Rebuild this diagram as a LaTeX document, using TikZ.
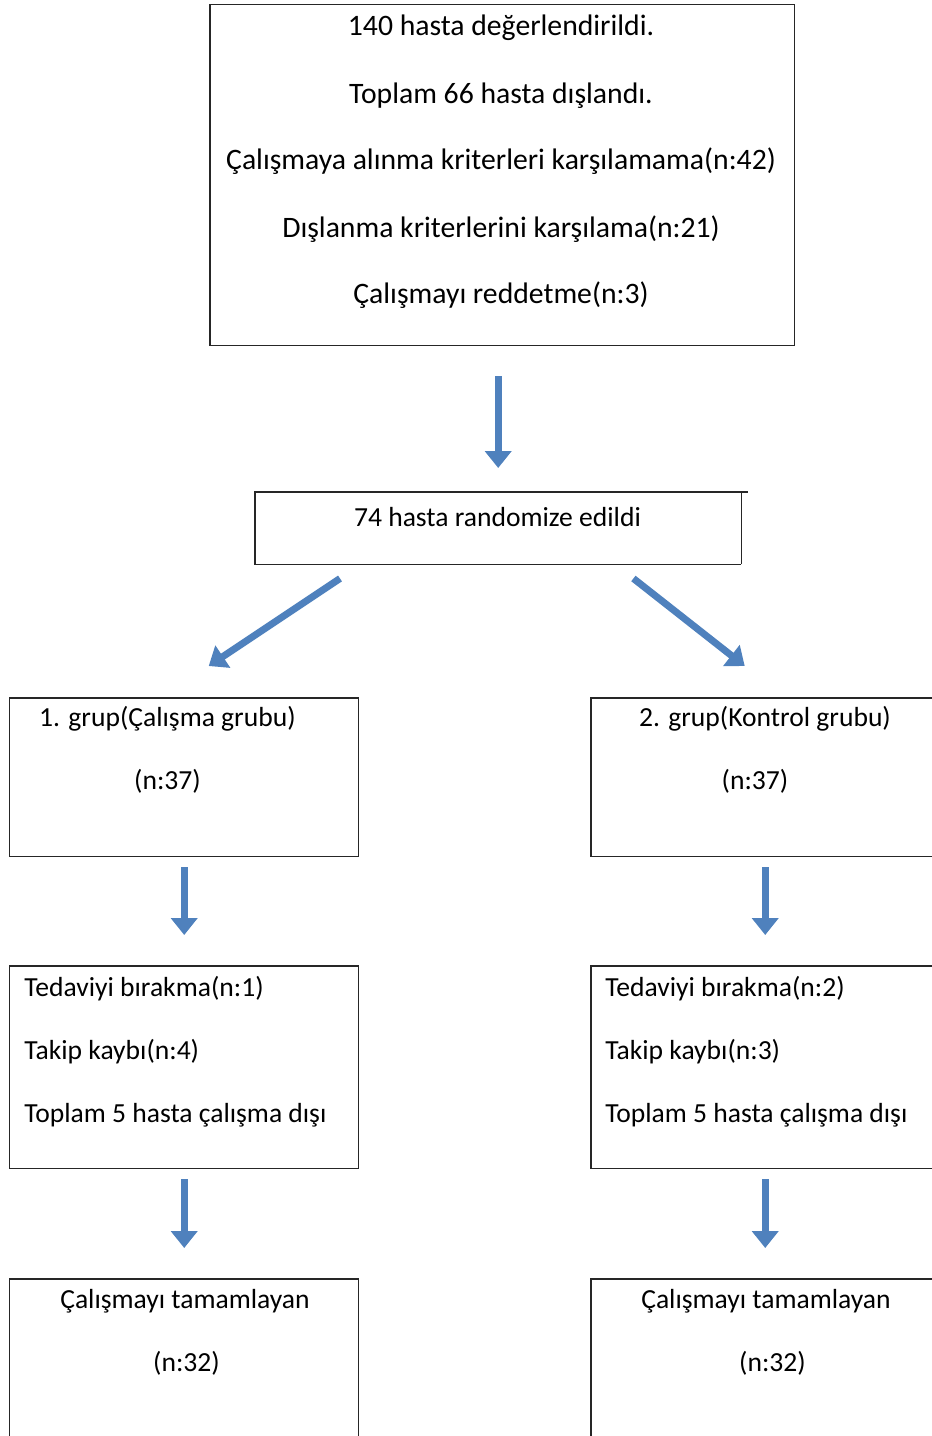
\documentclass[tikz,border=0pt]{standalone}
\usepackage{fontspec}
\setmainfont{Carlito}
\usetikzlibrary{positioning,arrows.meta,calc}
\definecolor{okmavi}{RGB}{79,129,189}
\tikzset{
  kutu/.style={draw=black!85, line width=0.03cm, anchor=north west, inner sep=0pt},
  yazi/.style={anchor=base, inner sep=0pt, font=\fontsize{16.9}{20}\selectfont},
  yazik/.style={yazi, font=\fontsize{15.7}{19}\selectfont},
  ok/.style={okmavi, line width=0.14cm, -{Triangle[width=0.52cm,length=0.34cm]}}
}
\begin{document}
\begin{tikzpicture}[x=0.02cm,y=-0.02cm]
    \useasboundingbox (0,0) rectangle (932,1436);
    \clip (0,0) rectangle (932,1436);
    % kutular
    \node[kutu, minimum width=11.7cm, minimum height=6.82cm] (ust) at (209,4) {};
    \node[kutu, draw=none, minimum width=9.7cm, minimum height=1.42cm] (rnd) at (255,492) {};
    \draw[black!85, line width=0.03cm] (rnd.south east) -- (rnd.south west) -- (rnd.north west) -- ($(rnd.north east)+(7,0)$);
    \draw[black!85, line width=0.03cm] (rnd.north east) -- (rnd.south east);
    \node[kutu, minimum width=6.98cm, minimum height=3.18cm] (grp1) at (9,697) {};
    \node[kutu, minimum width=6.98cm, minimum height=3.18cm] (grp2) at (590,697) {};
    \node[kutu, minimum width=6.98cm, minimum height=4.06cm] (cik1) at (9,965) {};
    \node[kutu, minimum width=6.98cm, minimum height=4.06cm] (cik2) at (590,965) {};
    \node[kutu, minimum width=6.98cm, minimum height=3.4cm] (son1) at (9,1278) {};
    \node[kutu, minimum width=6.98cm, minimum height=3.4cm] (son2) at (590,1278) {};

    % yazilar
    \foreach \y/\metin in {36/{140 hasta değerlendirildi.}, 104/{Toplam 66 hasta dışlandı.},
        170/{Çalışmaya alınma kriterleri karşılamama(n:42)}, 237/{Dışlanma kriterlerini karşılama(n:21)},
        303/{Çalışmayı reddetme(n:3)}} {
        \node[yazi] (ust-\y) at (501,\y) {\metin};
    }
    \node[yazik] (rnd-t) at (497.5,526) {74 hasta randomize edildi};
    \node[yazik] (grp1-a) at (167.5,726) {1. grup(Çalışma grubu)};
    \node[yazik] (grp1-b) at (167.5,789) {(n:37)};
    \node[yazik] (grp2-a) at (765,726) {2. grup(Kontrol grubu)};
    \node[yazik] (grp2-b) at (755,789) {(n:37)};
    \foreach \k/\x/\a/\b in {1/24/1/4, 2/605/2/3} {
        \node[yazik, anchor=base west] (cik\k-a) at (\x,996) {Tedaviyi bırakma(n:\a)};
        \node[yazik, anchor=base west] (cik\k-b) at (\x,1059) {Takip kaybı(n:\b)};
        \node[yazik, anchor=base west] (cik\k-c) at (\x,1122) {Toplam 5 hasta çalışma dışı};
    }
    \node[yazik] (son1-a) at (185,1308) {Çalışmayı tamamlayan};
    \node[yazik] (son1-b) at (186.5,1371) {(n:32)};
    \node[yazik] (son2-a) at (766,1308) {Çalışmayı tamamlayan};
    \node[yazik] (son2-b) at (772.5,1371) {(n:32)};

    % oklar
    \draw[ok, shorten <=0.6cm, shorten >=0.48cm] (ust.south -| rnd.north) -- (rnd.north);
    \coordinate (sol-u) at ($(rnd.south west)+(85,14)$);
    \coordinate (sol-a) at ($(grp1.north)+(24.5,-31)$);
    \coordinate (sag-u) at ($(rnd.south east)+(-108,14)$);
    \coordinate (sag-a) at ($(grp2.north)+(-20.5,-31)$);
    \draw[ok] (sol-u) -- (sol-a);
    \draw[ok] (sag-u) -- (sag-a);
    \foreach \k in {1,2} {
        \draw[ok, shorten <=0.2cm, shorten >=0.6cm] (grp\k.south) -- (cik\k.north);
        \draw[ok, shorten <=0.2cm, shorten >=0.6cm] (cik\k.south) -- (son\k.north);
    }
\end{tikzpicture}
\end{document}
